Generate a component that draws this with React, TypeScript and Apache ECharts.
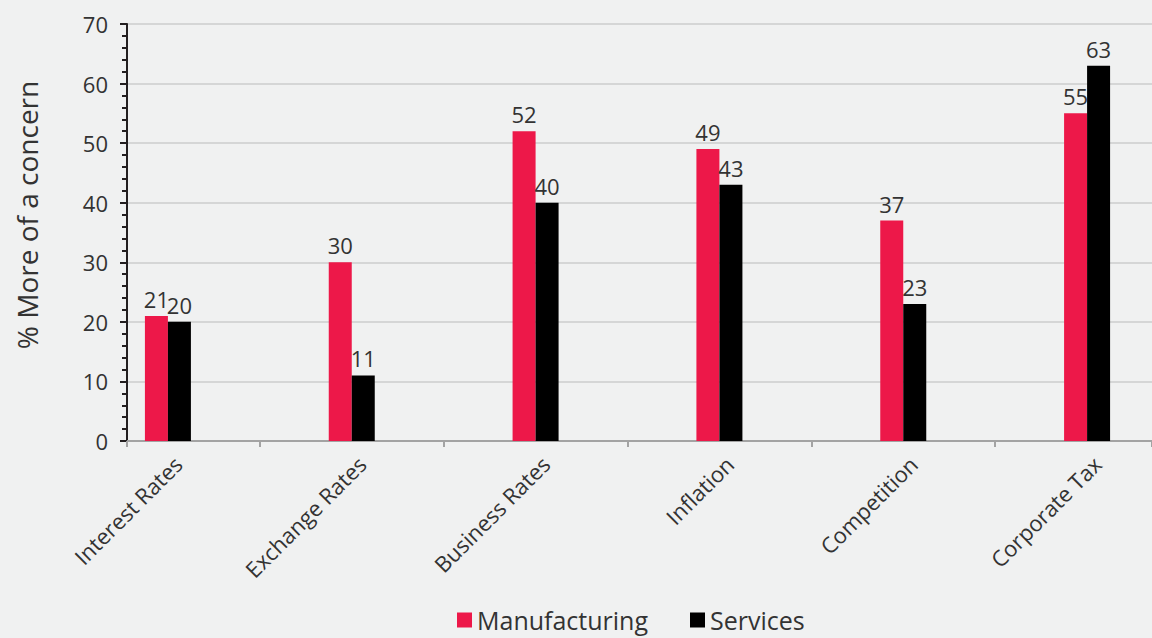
import React, { useEffect, useRef } from "react";
import * as echarts from "echarts";

const categories = ["Interest Rates", "Exchange Rates", "Business Rates", "Inflation", "Competition", "Corporate Tax"];
const manufacturing = [21, 30, 52, 49, 37, 55];
const services = [20, 11, 40, 43, 23, 63];
const yMin = 0;
const yMax = 70;
const yInterval = 10;

const FONT = "'Open Sans', sans-serif";
const TEXT = "#333333";

export default function App() {
  const ref = useRef<HTMLDivElement>(null);
  useEffect(() => {
    if (!ref.current) return;
    const chart = echarts.init(ref.current, null, { renderer: "svg" });
    const plotTop = 24;
    const plotHeight = 417;
    chart.setOption({
      animation: false,
      backgroundColor: "#f0f1f1",
      textStyle: { fontFamily: FONT, color: TEXT },
      grid: [
        { left: 76, top: plotTop, width: 1103, height: plotHeight, outerBoundsMode: "none", containLabel: false },
        { left: 127, top: plotTop, width: 1025, height: plotHeight, outerBoundsMode: "none", containLabel: false },
        { left: 86, top: plotTop, width: 1103, height: plotHeight, outerBoundsMode: "none", containLabel: false },
      ],
      legend: {
        left: 457,
        top: 607,
        padding: 0,
        icon: "rect",
        itemWidth: 15,
        itemHeight: 15,
        itemGap: 42,
        textStyle: { fontFamily: FONT, fontSize: 25, lineHeight: 26, color: TEXT },
        data: ["Manufacturing", "Services"],
      },
      xAxis: [
        {
          gridIndex: 0,
          type: "category",
          data: categories,
          axisLine: { show: false },
          axisTick: {
            show: true,
            length: 6,
            interval: (i: number) => i !== 0,
            lineStyle: { color: "#a3a3a3", width: 2 },
          },
          axisLabel: { show: false },
        },
        {
          gridIndex: 1,
          type: "value",
          min: 0,
          max: 1,
          interval: 1,
          axisLine: { show: true, lineStyle: { color: "#a3a3a3", width: 2 } },
          axisTick: { show: true, length: 6, lineStyle: { color: "#a3a3a3", width: 2 } },
          axisLabel: { show: false },
          splitLine: { show: false },
        },
        {
          gridIndex: 2,
          type: "category",
          data: categories,
          axisLine: { show: false },
          axisTick: { show: false },
          axisLabel: {
            rotate: 45,
            interval: 0,
            margin: 19,
            fontSize: 22,
            fontFamily: FONT,
            color: TEXT,
          },
        },
      ],
      yAxis: [
        { gridIndex: 0, type: "value", min: yMin, max: yMax, show: false },
        {
          gridIndex: 1,
          type: "value",
          min: yMin,
          max: yMax,
          interval: yInterval,
          name: "% More of a concern",
          nameLocation: "middle",
          nameGap: 86,
          nameTextStyle: { fontSize: 28, fontFamily: FONT, color: TEXT, padding: [0, 0, 0, 35] },
          axisLine: { show: true, lineStyle: { color: "#231f20", width: 2 } },
          axisTick: { show: true, length: 7, lineStyle: { color: "#231f20", width: 2 } },
          minorTick: { show: true, splitNumber: 5, length: 5, lineStyle: { color: "#231f20", width: 2 } },
          axisLabel: { fontSize: 22, margin: 19, fontFamily: FONT, color: TEXT },
          splitLine: { show: true, lineStyle: { color: "#cccccc", width: 1.5 } },
        },
        { gridIndex: 2, type: "value", min: yMin, max: yMax, show: false },
      ],
      series: [
        {
          name: "Manufacturing",
          type: "bar",
          xAxisIndex: 0,
          yAxisIndex: 0,
          data: manufacturing,
          barWidth: 23,
          barGap: "0%",
          itemStyle: { color: "#ed1849" },
          label: { show: true, position: "top", distance: 6, fontSize: 22, fontFamily: FONT, color: TEXT },
        },
        {
          name: "Services",
          type: "bar",
          xAxisIndex: 0,
          yAxisIndex: 0,
          data: services,
          barWidth: 23,
          barGap: "0%",
          itemStyle: { color: "#000000" },
          label: { show: true, position: "top", distance: 6, fontSize: 22, fontFamily: FONT, color: TEXT },
        },
      ],
    });
    return () => chart.dispose();
  }, []);
  return (
    <div
      ref={ref}
      style={{ position: "absolute", left: 0, top: 0, width: 1152, height: 638 }}
    />
  );
}
